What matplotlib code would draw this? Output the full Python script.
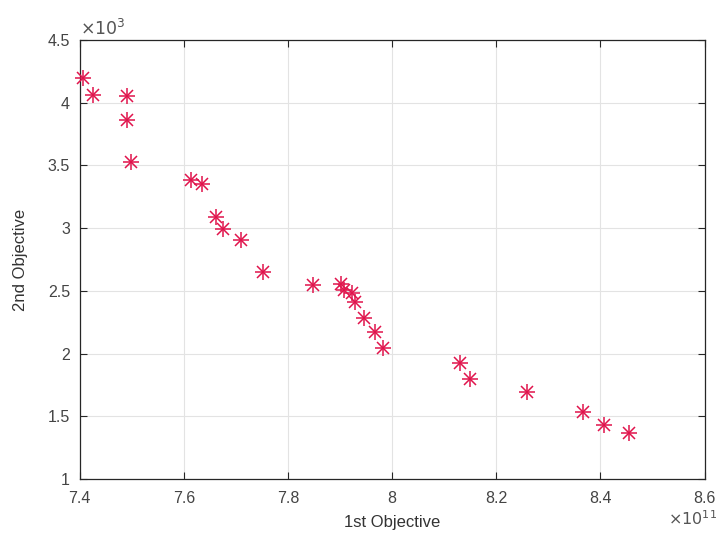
import matplotlib
matplotlib.use("Agg")
import matplotlib.pyplot as plt
from matplotlib.ticker import FuncFormatter

# Pareto front (raw objective values)
obj1 = [7.406e11, 7.425e11, 7.490e11, 7.490e11, 7.498e11,
        7.613e11, 7.634e11, 7.662e11, 7.675e11, 7.709e11,
        7.751e11, 7.847e11, 7.902e11, 7.907e11, 7.922e11,
        7.928e11, 7.945e11, 7.966e11, 7.982e11, 8.131e11,
        8.150e11, 8.259e11, 8.367e11, 8.407e11, 8.454e11]
obj2 = [4.197e3, 4.062e3, 4.054e3, 3.862e3, 3.527e3,
        3.384e3, 3.352e3, 3.091e3, 2.991e3, 2.906e3,
        2.650e3, 2.547e3, 2.555e3, 2.507e3, 2.481e3,
        2.414e3, 2.284e3, 2.174e3, 2.042e3, 1.927e3,
        1.795e3, 1.696e3, 1.537e3, 1.431e3, 1.369e3]

x_ticks = [7.4e11, 7.6e11, 7.8e11, 8.0e11, 8.2e11, 8.4e11, 8.6e11]
y_ticks = [1e3, 1.5e3, 2e3, 2.5e3, 3e3, 3.5e3, 4e3, 4.5e3]

plt.rcParams["font.family"] = ["Liberation Sans", "DejaVu Sans"]

fig = plt.figure(figsize=(7.19, 5.34), dpi=100)
ax = fig.add_axes([0.111, 0.103, 0.869, 0.822])

star_color = "#e0144c"
ax.plot(obj1, obj2, linestyle="none", marker="+", markersize=12,
        markeredgewidth=1.1, color=star_color, zorder=3, clip_on=False)
ax.plot(obj1, obj2, linestyle="none", marker="x", markersize=9,
        markeredgewidth=1.1, color=star_color, zorder=3, clip_on=False)

ax.set_xlim(7.4e11, 8.6e11)
ax.set_ylim(1e3, 4.5e3)
ax.set_xticks(x_ticks)
ax.set_yticks(y_ticks)
ax.xaxis.set_major_formatter(FuncFormatter(lambda v, p: "%g" % round(v / 1e11, 2)))
ax.yaxis.set_major_formatter(FuncFormatter(lambda v, p: "%g" % round(v / 1e3, 2)))

ax.grid(True, color="#e3e3e3", linewidth=0.8)
ax.set_axisbelow(True)
for s in ax.spines.values():
    s.set_color("#262626")
    s.set_linewidth(0.9)
ax.tick_params(direction="in", top=True, right=True, length=5,
               labelsize=11.5, colors="#262626", labelcolor="#444444")
ax.tick_params(axis="x", pad=9)
ax.tick_params(axis="y", pad=7)

ax.set_xlabel("1st Objective", fontsize=12, color="#333333", labelpad=6)
ax.set_ylabel("2nd Objective", fontsize=12, color="#333333", labelpad=14)

ax.text(0.0, 1.004, r"$\times10^{3}$", transform=ax.transAxes, fontsize=12.5,
        color="#555555", ha="left", va="bottom")
fig.text(0.997, 0.012, r"$\times10^{11}$", fontsize=11.5,
         color="#555555", ha="right", va="bottom")

fig.savefig("out.png", dpi=100)
